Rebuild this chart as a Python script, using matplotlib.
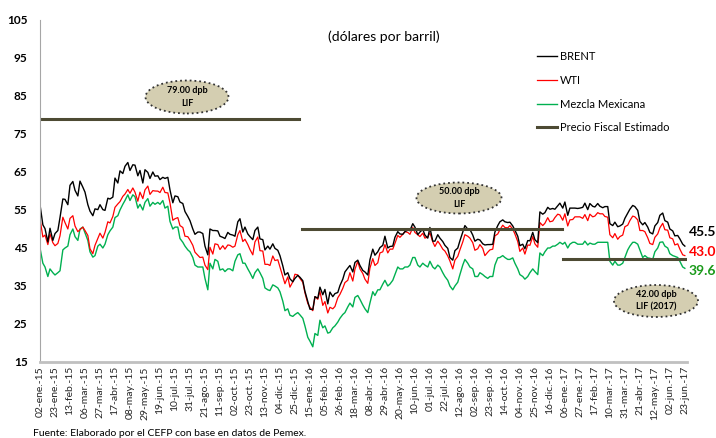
import pandas as pd
import matplotlib
matplotlib.use('Agg')
import matplotlib.pyplot as plt
from matplotlib.patches import Ellipse

plt.rcParams['font.family'] = ['Lato', 'DejaVu Sans']

# precios (dolares por barril), martes y viernes del 02-ene-15 al 23-jun-17
viernes = pd.date_range('2015-01-02', '2017-06-23', freq='W-FRI')
martes = pd.date_range('2015-01-06', '2017-06-20', freq='W-TUE')
fechas = viernes.union(martes)

brent = [56.4,
         51.1, 50.1, 46.6, 50.2, 47.0, 48.8, 49.6, 53.0,
         57.9, 57.8, 56.4, 61.5, 62.5, 60.2, 58.7, 62.6,
         61.0, 59.7, 56.4, 54.7, 53.5, 55.3, 55.1, 56.4, 55.1, 54.9,
         58.1, 57.9, 58.4, 63.4, 62.1, 65.3, 64.6, 66.5,
         67.5, 65.4, 66.9, 66.8, 64.0, 65.4, 62.1, 65.6,
         64.9, 63.3, 65.0, 63.9, 64.0, 63.0, 63.6, 63.3,
         63.6, 60.3, 56.9, 58.7, 58.5, 57.1, 56.7, 54.6, 53.3, 52.2,
         49.99, 48.6, 49.2, 49.2, 48.8, 45.5, 43.2, 50.0,
         49.6, 49.6, 49.5, 48.1, 47.8, 47.5, 49.1, 48.6,
         48.4, 48.1, 51.9, 52.7, 49.2, 50.5, 48.7, 48.0, 47.2, 49.6,
         50.5, 47.4, 47.2, 44.5, 45.5, 44.7, 46.1, 44.9,
         44.4, 43.0, 40.3, 37.9, 38.5, 36.9, 36.1, 37.0, 37.8, 37.3,
         # 2016
         36.4, 33.6, 30.9, 28.9, 28.8, 32.2, 31.8, 34.7,
         32.7, 34.1, 30.3, 33.4, 32.2, 33.0, 33.3, 35.1,
         36.8, 38.7, 39.7, 40.4, 38.7, 41.2, 41.8, 40.4, 39.1, 38.7,
         37.9, 41.9, 44.7, 43.1, 44.0, 45.1, 45.7, 48.1,
         45.0, 45.4, 45.5, 47.8, 49.3, 48.7, 48.6, 49.3, 49.7, 49.6,
         51.4, 50.5, 48.5, 49.2, 49.9, 48.4, 47.6, 50.4,
         46.8, 46.8, 48.5, 47.6, 46.7, 45.7, 44.9, 42.5,
         41.8, 44.3, 44.98, 46.9, 49.2, 50.9, 49.96, 49.9, 48.4, 46.8,
         47.3, 47.1, 46.1, 45.8, 45.9, 45.9, 45.97, 49.2,
         50.9, 51.9, 52.4, 51.9, 51.7, 51.8, 50.8, 49.7,
         48.1, 45.6, 46.0, 44.8, 46.95, 46.9, 49.1, 47.2, 46.4, 54.5,
         53.9, 54.3, 55.7, 55.2, 55.4, 55.2, 56.1, 56.8,
         # 2017
         55.5, 57.1, 53.6, 55.5, 55.5, 55.5, 55.4, 55.5,
         55.7, 56.8, 55.1, 56.7, 55.97, 55.8, 56.7, 56.0,
         55.6, 55.9, 55.9, 51.4, 50.9, 51.8, 50.6, 50.8, 51.3, 52.8,
         54.2, 55.2, 56.2, 55.9, 54.9, 52.0, 51.1, 51.7,
         50.5, 49.1, 48.7, 50.8, 51.7, 53.6, 54.2, 52.2, 51.8, 50.0,
         49.5, 48.2, 48.3, 47.4, 46.0, 45.5]

wti = [52.7,
       47.9, 48.4, 45.9, 48.7, 46.4, 45.6, 46.2, 48.2,
       53.1, 51.7, 50.0, 52.8, 53.5, 50.8, 49.3, 49.8,
       50.5, 49.6, 48.3, 44.8, 43.5, 45.7, 47.5, 48.9, 47.6, 49.1,
       51.9, 51.6, 53.3, 55.7, 56.6, 57.2, 58.6, 59.2,
       60.4, 59.4, 60.8, 59.7, 57.3, 59.7, 58.0, 60.3,
       61.3, 59.1, 60.1, 60.0, 59.97, 59.6, 61.0, 59.6,
       59.5, 56.9, 52.3, 52.7, 53.0, 50.9, 50.4, 48.1, 47.98, 47.1,
       45.7, 43.9, 43.1, 42.5, 42.6, 40.5, 39.3, 45.2,
       43.4, 46.1, 45.9, 44.6, 45.6, 44.7, 45.8, 45.7,
       45.2, 45.5, 48.5, 49.6, 46.7, 47.3, 45.9, 44.6, 43.2, 46.6,
       47.9, 44.3, 44.2, 40.7, 40.7, 40.4, 42.9, 41.7,
       41.9, 40.0, 37.5, 35.6, 37.4, 34.7, 36.1, 38.1, 37.9, 37.0,
       # 2016
       35.97, 33.2, 30.4, 29.4, 28.5, 32.2, 31.5, 33.6,
       29.9, 30.9, 27.9, 29.4, 29.0, 29.6, 31.9, 32.8,
       34.4, 35.9, 36.5, 38.5, 36.3, 39.4, 41.5, 39.5, 38.3, 36.8,
       35.7, 39.7, 42.2, 40.4, 41.1, 43.7, 44.0, 45.9,
       43.7, 44.7, 44.7, 46.2, 48.3, 47.8, 48.6, 49.3, 49.1, 48.6,
       50.4, 49.1, 48.5, 48.0, 48.9, 47.6, 47.9, 49.0,
       46.6, 45.4, 46.8, 46.0, 44.7, 44.2, 42.9, 41.6,
       39.5, 41.8, 42.8, 44.5, 46.6, 48.5, 48.1, 47.6, 46.4, 44.4,
       44.8, 45.9, 44.9, 43.0, 43.9, 44.5, 44.7, 48.2,
       48.7, 49.8, 51.0, 50.4, 50.3, 50.9, 49.96, 48.7,
       46.7, 44.1, 45.0, 43.4, 45.8, 45.7, 48.0, 46.1, 45.2, 51.7,
       50.9, 51.5, 52.98, 51.9, 52.1, 53.0, 53.9, 53.7,
       # 2017
       52.3, 54.0, 50.8, 52.4, 52.5, 53.2, 53.2, 53.2,
       52.8, 53.8, 52.2, 53.9, 53.2, 53.4, 54.3, 54.0,
       54.0, 53.3, 53.1, 48.5, 47.7, 48.8, 47.3, 48.0, 48.4, 50.6,
       51.0, 52.2, 53.4, 53.2, 52.4, 49.6, 49.6, 49.3,
       47.7, 46.2, 45.9, 47.8, 48.7, 50.3, 51.5, 49.8, 49.7, 47.7,
       47.4, 45.8, 46.1, 44.7, 43.2, 43.0]

mezcla = [45.0,
          41.0, 40.0, 37.5, 39.5, 38.5, 37.9, 38.5, 39.0,
          44.5, 45.0, 45.5, 48.5, 50.0, 48.0, 47.0, 50.0,
          50.5, 49.0, 47.0, 44.0, 42.6, 43.0, 45.5, 46.0, 45.0, 46.0,
          48.5, 49.5, 50.5, 53.0, 53.5, 55.0, 56.5, 57.5,
          59.0, 57.5, 59.0, 58.5, 55.5, 56.5, 55.0, 57.0,
          58.0, 56.0, 57.0, 56.5, 57.0, 56.5, 57.5, 55.5,
          56.0, 52.0, 50.0, 50.5, 50.5, 47.5, 46.5, 45.5, 44.5, 44.0,
          42.5, 40.5, 40.0, 40.0, 40.0, 37.0, 34.0, 41.0,
          39.5, 42.0, 41.5, 39.2, 39.5, 38.8, 39.5, 39.5,
          39.0, 41.5, 43.2, 43.5, 41.0, 41.0, 39.5, 38.5, 37.0, 38.5,
          39.5, 38.5, 37.0, 34.5, 34.0, 33.8, 35.3, 35.0,
          34.5, 33.5, 31.0, 28.5, 29.0, 27.3, 27.0, 27.5, 28.0, 27.4,
          # 2016
          26.5, 24.5, 21.5, 20.5, 19.0, 22.5, 22.0, 26.0,
          24.0, 24.5, 22.6, 22.8, 24.0, 24.5, 25.5, 26.5,
          27.5, 28.0, 29.5, 30.5, 29.5, 32.0, 32.5, 31.5, 30.0, 29.0,
          28.0, 30.5, 33.5, 32.5, 34.0, 34.0, 35.5, 36.5,
          35.0, 35.5, 36.5, 38.0, 40.0, 39.5, 39.5, 40.0, 40.0, 40.5,
          42.5, 42.5, 40.5, 40.0, 41.0, 40.5, 40.0, 41.5,
          40.0, 39.5, 40.5, 40.0, 38.5, 37.5, 36.5, 35.0,
          34.0, 35.0, 36.0, 38.0, 40.5, 42.0, 41.0, 40.0, 39.5, 37.5,
          37.5, 38.5, 38.0, 37.5, 37.0, 37.5, 37.5, 40.5,
          42.4, 42.5, 43.0, 42.5, 42.0, 42.0, 42.4, 41.0,
          39.5, 38.0, 37.5, 36.8, 37.5, 38.5, 39.5, 38.8, 38.0, 43.7,
          43.0, 44.0, 45.0, 45.0, 45.5, 45.5, 46.0, 46.5,
          # 2017
          46.0, 46.5, 45.0, 46.0, 46.5, 46.5, 46.0, 46.0,
          46.0, 46.8, 45.8, 46.3, 46.0, 46.0, 46.5, 46.5,
          46.5, 46.5, 46.5, 41.5, 40.5, 41.5, 40.5, 40.5, 41.0, 42.5,
          44.5, 45.5, 46.5, 46.5, 46.0, 44.5, 42.5, 43.0,
          42.4, 42.3, 42.0, 44.0, 45.0, 46.5, 46.6, 45.5, 45.0, 43.5,
          43.0, 42.8, 42.5, 41.5, 40.0, 39.65]

assert len(brent) == len(wti) == len(mezcla) == len(fechas), (len(brent), len(wti), len(mezcla), len(fechas))

# precio fiscal estimado (LIF) por periodo
fiscal_inicio = ['2015-01-02', '2016-01-04', '2017-01-03']
fiscal_fin = ['2015-12-31', '2017-01-02', '2017-06-26']
fiscal_valor = [79, 50, 42]
fiscal_texto = ['79.00 dpb\nLIF', '50.00 dpb\nLIF', '42.00 dpb\nLIF (2017)']

ultimos = ['45.5', '43.0', '39.65']

meses = ['ene', 'feb', 'mar', 'abr', 'may', 'jun',
         'jul', 'ago', 'sep', 'oct', 'nov', 'dic']
ticks = pd.date_range('2015-01-02', '2017-06-23', freq='21D')
etiquetas = [f"{d.day:02d}-{meses[d.month - 1]}.-{d.year % 100:02d}" for d in ticks]

W, H = 716, 438
fig = plt.figure(figsize=(W / 100, H / 100), dpi=100)
ax = fig.add_axes([40 / W, 1 - 362 / H, 647 / W, 342 / H])

ax.plot(fechas, mezcla, color='#00b050', lw=1.0, label='Mezcla Mexicana')
ax.plot(fechas, wti, color='#ff0000', lw=0.9, label='WTI')
ax.plot(fechas, brent, color='black', lw=1.0, label='BRENT')
for i in range(len(fiscal_valor)):
    ax.plot([pd.Timestamp(fiscal_inicio[i]), pd.Timestamp(fiscal_fin[i])],
            [fiscal_valor[i], fiscal_valor[i]], color='#4d4a33', lw=2.2,
            label='Precio Fiscal Estimado' if i == 0 else None)

ax.set_xlim(pd.Timestamp('2015-01-02'), pd.Timestamp('2017-06-26'))
ax.set_ylim(15, 105)
ax.set_yticks(range(15, 106, 10))
ax.set_xticks(ticks)
ax.set_xticklabels(etiquetas, rotation=90, fontsize=7.5, color='#262626')
for t in ax.get_yticklabels():
    t.set_fontweight('bold')
    t.set_fontsize(8.5)
ax.tick_params(axis='both', length=0)
ax.tick_params(axis='y', pad=9)
ax.tick_params(axis='x', pad=3)
ax.spines['top'].set_visible(False)
ax.spines['right'].set_visible(False)
ax.spines['left'].set_color('#a6a6a6')
ax.spines['bottom'].set_color('#c0c0c0')
ax.spines['bottom'].set_linewidth(2)

# leyenda en el orden del original
h, l = ax.get_legend_handles_labels()
orden = ['BRENT', 'WTI', 'Mezcla Mexicana', 'Precio Fiscal Estimado']
hh = [h[l.index(n)] for n in orden]
fig.legend(hh, orden, loc='upper left', bbox_to_anchor=(537 / W, 1 - 51 / H),
           frameon=False, fontsize=8, handlelength=1.8, handletextpad=0.25,
           labelspacing=1.15, borderpad=0, borderaxespad=0)

fig.text(384 / W, 1 - 37 / H, '(dólares por barril)', ha='center', va='center', fontsize=10)

# globos con el precio de la LIF
globos = [(187, 97, 83, 33), (459, 198, 85, 31), (656, 301, 84, 32)]
for (cx, cy, ew, eh), txt in zip(globos, fiscal_texto):
    e = Ellipse((cx / W, 1 - cy / H), ew / W, eh / H, transform=fig.transFigure,
                facecolor='#d4ceb1', edgecolor='#333333', lw=1.3, ls=':')
    fig.patches.append(e)
    fig.text(cx / W, 1 - cy / H, txt, ha='center', va='center', fontsize=6.5,
             fontweight='bold', linespacing=1.5)

# ultimo dato de cada serie
colores = ['black', '#ff0000', '#1a9a1a']
for y, txt, c in zip([232, 252, 271], ultimos, colores):
    fig.text(689 / W, 1 - y / H, txt, ha='left', va='center', fontsize=10,
             fontweight='bold', color=c)

fig.text(33 / W, 1 - 434 / H, 'Fuente: Elaborado por el CEFP con base en datos de Pemex.',
         ha='left', va='center', fontsize=7.5)

fig.savefig('out.png', dpi=100)
